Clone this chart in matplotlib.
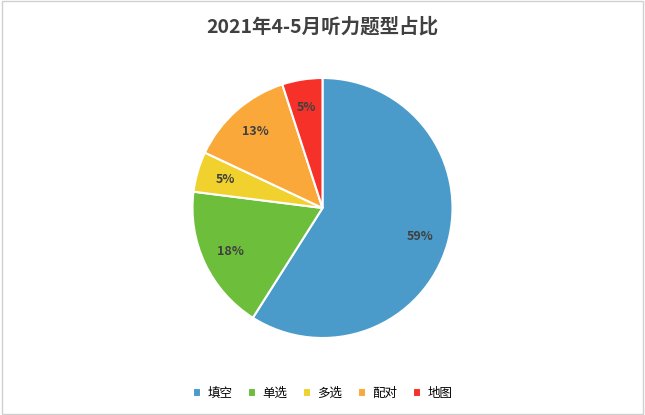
import matplotlib.pyplot as plt
from matplotlib.patches import Rectangle

plt.rcParams['font.family'] = ['Noto Sans CJK SC', 'DejaVu Sans']

labels = ['填空', '单选', '多选', '配对', '地图']
values = [59, 18, 5, 13, 5]
colors = ['#4A9BCA', '#6DBE3A', '#F0D12E', '#FBA83A', '#F5312A']

fig = plt.figure(figsize=(6.45, 4.15), dpi=100)
fig.patches.append(Rectangle((0.003, 0.003), 0.994, 0.994, transform=fig.transFigure,
                             fill=False, edgecolor='#D0D0D0', linewidth=1))

ax = fig.add_axes([0.5 - 130 / 645, 1 - (208 + 130) / 415, 260 / 645, 260 / 415])
wedges, texts, autotexts = ax.pie(values, colors=colors, startangle=90, counterclock=False,
                                  autopct='%.0f%%', pctdistance=0.78,
                                  wedgeprops=dict(edgecolor='white', linewidth=1.5),
                                  textprops=dict(fontsize=9, fontweight='bold', color='#404040'))
ax.set_xlim(-1, 1)
ax.set_ylim(-1, 1)
ax.set_aspect('equal')

fig.text(0.5, 0.935, '2021年4-5月听力题型占比', ha='center', va='center',
         fontsize=14, fontweight='bold', color='#404040')

fig.legend(wedges, labels, loc='lower center', bbox_to_anchor=(0.5, 0.01), ncol=5,
           frameon=False, fontsize=9, handlelength=0.7, handleheight=0.7,
           columnspacing=1.2, handletextpad=0.5)

fig.savefig('out.png', dpi=100)
